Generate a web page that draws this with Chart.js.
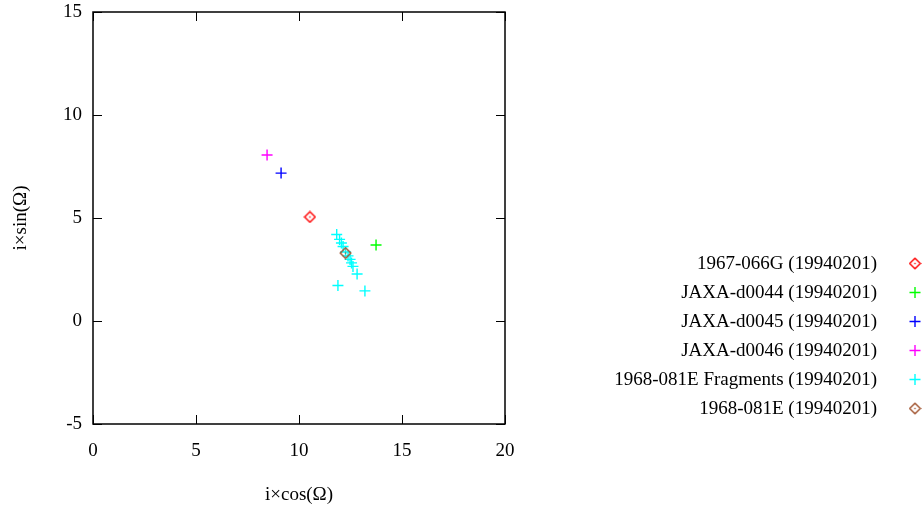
<!DOCTYPE html>
<html>
<head>
<meta charset="utf-8">
<script src="https://cdn.jsdelivr.net/npm/chart.js@4/dist/chart.umd.min.js"></script>
<style>
  body { margin: 0; background: #fff; }
  #wrap { width: 923px; height: 510px; }
</style>
</head>
<body>
<div id="wrap"><canvas id="chart" width="923" height="510"></canvas></div>
<script>
// series (x = i*cos(Omega), y = i*sin(Omega))
const seriesNames = [
    '1967-066G (19940201)',
    'JAXA-d0044 (19940201)',
    'JAXA-d0045 (19940201)',
    'JAXA-d0046 (19940201)',
    '1968-081E Fragments (19940201)',
    '1968-081E (19940201)'
];
const seriesColors = ['#ff0000', '#00ff00', '#0000ff', '#ff00ff', '#00ffff', '#a0522d'];
const seriesMarkers = ['diamond', 'cross', 'cross', 'cross', 'cross', 'diamond'];

const d1967066G = [{ x: 10.53, y: 5.05 }];
const dJaxa0044 = [{ x: 13.74, y: 3.69 }];
const dJaxa0045 = [{ x: 9.13, y: 7.18 }];
const dJaxa0046 = [{ x: 8.45, y: 8.06 }];
const dFragments = [
    { x: 11.83, y: 4.20 },
    { x: 11.97, y: 3.96 },
    { x: 12.06, y: 3.79 },
    { x: 12.14, y: 3.62 },
    { x: 12.26, y: 3.35 },
    { x: 12.38, y: 3.16 },
    { x: 12.48, y: 2.99 },
    { x: 12.55, y: 2.82 },
    { x: 12.62, y: 2.65 },
    { x: 12.82, y: 2.28 },
    { x: 11.89, y: 1.72 },
    { x: 13.20, y: 1.46 }
];
const d1968081E = [{ x: 12.26, y: 3.30 }];
const allData = [d1967066G, dJaxa0044, dJaxa0045, dJaxa0046, dFragments, d1968081E];

const xTitle = 'i×cos(Ω)';
const yTitle = 'i×sin(Ω)';

const FONT = '"Liberation Serif", "DejaVu Serif", serif';
const FSIZE = 19;

function diamondImage(color) {
    const c = document.createElement('canvas');
    c.width = 13;
    c.height = 13;
    const g = c.getContext('2d');
    g.strokeStyle = color;
    g.lineWidth = 1.4;
    g.beginPath();
    g.moveTo(6.5, 1.2);
    g.lineTo(11.8, 6.5);
    g.lineTo(6.5, 11.8);
    g.lineTo(1.2, 6.5);
    g.closePath();
    g.stroke();
    g.fillStyle = color;
    g.fillRect(5.8, 5.8, 1.4, 1.4);
    return c;
}

const markerImages = seriesColors.map((c, i) => seriesMarkers[i] === 'diamond' ? diamondImage(c) : null);

function drawCross(ctx, x, y, r, color) {
    ctx.save();
    ctx.strokeStyle = color;
    ctx.lineWidth = 1.4;
    ctx.beginPath();
    ctx.moveTo(x - r, y);
    ctx.lineTo(x + r, y);
    ctx.moveTo(x, y - r);
    ctx.lineTo(x, y + r);
    ctx.stroke();
    ctx.restore();
}

// gnuplot-like frame: full box with inward ticks on all sides
const framePlugin = {
    id: 'frame',
    afterDatasetsDraw(chart) {
        const ctx = chart.ctx;
        const a = chart.chartArea;
        const xs = chart.scales.x;
        const ys = chart.scales.y;
        const tl = 9;
        ctx.save();
        ctx.strokeStyle = '#000';
        ctx.lineWidth = 1;
        ctx.beginPath();
        xs.ticks.forEach(t => {
            const px = Math.round(xs.getPixelForValue(t.value)) + 0.5;
            ctx.moveTo(px, a.bottom);
            ctx.lineTo(px, a.bottom - tl);
            ctx.moveTo(px, a.top);
            ctx.lineTo(px, a.top + tl);
        });
        ys.ticks.forEach(t => {
            const py = Math.round(ys.getPixelForValue(t.value)) + 0.5;
            ctx.moveTo(a.left, py);
            ctx.lineTo(a.left + tl, py);
            ctx.moveTo(a.right, py);
            ctx.lineTo(a.right - tl, py);
        });
        ctx.stroke();
        ctx.lineWidth = 1.5;
        ctx.strokeRect(a.left, a.top, a.right - a.left, a.bottom - a.top);
        ctx.restore();
    }
};

// legend on the right: text right-aligned, marker after it
const sideLegend = {
    id: 'sideLegend',
    afterDraw(chart) {
        const ctx = chart.ctx;
        const textRight = 877;
        const markX = 915;
        const top = 263.5;
        const step = 29;
        ctx.save();
        ctx.font = FSIZE + 'px ' + FONT;
        ctx.fillStyle = '#000';
        ctx.textAlign = 'right';
        ctx.textBaseline = 'middle';
        seriesNames.forEach((name, i) => {
            const y = top + i * step;
            ctx.fillText(name, textRight, y + 1);
            if (markerImages[i]) {
                ctx.drawImage(markerImages[i], markX - 6.5, y - 6.5);
            } else {
                drawCross(ctx, markX, y, 5.5, seriesColors[i]);
            }
        });
        ctx.restore();
    }
};

const datasets = allData.map((pts, i) => ({
    label: seriesNames[i],
    data: pts,
    order: allData.length - i,
    pointStyle: markerImages[i] || 'cross',
    pointRadius: 5.5,
    pointHoverRadius: 5.5,
    pointBorderWidth: 1.4,
    borderColor: seriesColors[i],
    backgroundColor: seriesColors[i],
    showLine: false
}));

new Chart(document.getElementById('chart'), {
    type: 'scatter',
    data: { datasets: datasets },
    options: {
        responsive: false,
        devicePixelRatio: 1,
        animation: false,
        layout: { padding: { left: 0, right: 418, top: 12, bottom: 0 } },
        plugins: {
            legend: { display: false },
            tooltip: { enabled: false }
        },
        scales: {
            x: {
                type: 'linear',
                min: 0,
                max: 20,
                afterFit(scale) {
                    scale.height = 86;
                    scale.paddingLeft = 0;
                    scale.paddingRight = 0;
                },
                grid: { display: false, drawTicks: false },
                border: { display: false },
                ticks: {
                    stepSize: 5,
                    padding: 16,
                    color: '#000',
                    font: { family: FONT, size: FSIZE }
                },
                title: {
                    display: true,
                    text: xTitle,
                    color: '#000',
                    font: { family: FONT, size: FSIZE },
                    padding: { top: 0, bottom: 4 }
                }
            },
            y: {
                type: 'linear',
                min: -5,
                max: 15,
                afterFit(scale) {
                    scale.width = 93;
                    scale.paddingTop = 0;
                    scale.paddingBottom = 0;
                },
                grid: { display: false, drawTicks: false },
                border: { display: false },
                ticks: {
                    stepSize: 5,
                    padding: 11,
                    color: '#000',
                    font: { family: FONT, size: FSIZE }
                },
                title: {
                    display: true,
                    text: yTitle,
                    color: '#000',
                    font: { family: FONT, size: FSIZE },
                    padding: { top: 10, bottom: 0 }
                }
            }
        }
    },
    plugins: [framePlugin, sideLegend]
});
</script>
</body>
</html>
